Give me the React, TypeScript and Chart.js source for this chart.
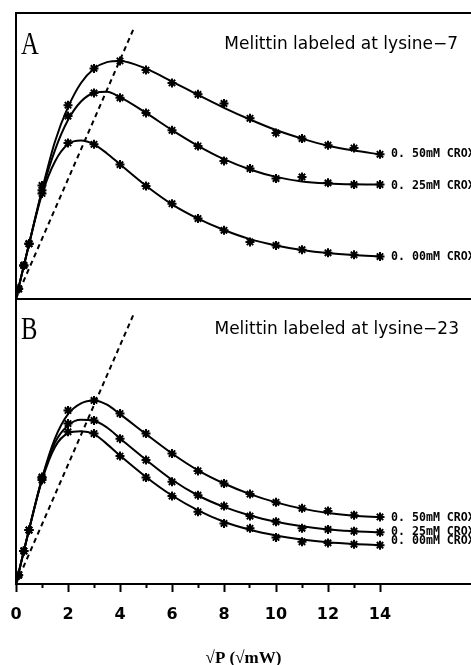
import React, { useEffect, useRef } from "react";
import { Chart, registerables } from "chart.js";

Chart.register(...registerables);

// ---- data ----
const pointX = [0.1, 0.3, 0.5, 1, 2, 3, 4, 5, 6, 7, 8, 9, 10, 11, 12, 13, 14];
const curveX = [0, 0.5, 1, 1.5, 2, 2.5, 3, 3.5, 4, 5, 6, 7, 8, 9, 10, 11, 12, 13, 14];
const seriesLabels = ["0. 50mM CROX", "0. 25mM CROX", "0. 00mM CROX"];
const panelTitles = ["Melittin labeled at lysine\u22127", "Melittin labeled at lysine\u221223"];
const panelLetters = ["A", "B"];
const xTitle = "\u221AP (\u221AmW)";

// Panel A
const a050Points = [3.4, 11.6, 19.2, 39.6, 67.7, 80.6, 83.2, 80.0, 75.5, 71.5, 68.3, 63.1, 58.0, 56.0, 53.7, 52.7, 50.5];
const a025Points = [3.4, 11.6, 19.2, 37.9, 63.9, 72.0, 70.3, 65.0, 58.9, 53.4, 48.2, 45.5, 42.0, 42.6, 40.5, 39.9, 39.9];
const a000Points = [3.4, 11.6, 19.2, 36.8, 54.5, 54.0, 46.9, 39.4, 33.2, 28.0, 23.9, 19.8, 18.6, 17.1, 16.0, 15.3, 14.7];
const a050Curve = [0, 19, 38, 55, 67, 75.5, 80.5, 82.8, 83.2, 80.5, 76, 71.3, 66.8, 62.7, 59, 56, 53.5, 51.8, 50.5];
const a025Curve = [0, 19, 37.5, 52, 62.5, 69, 72, 72.4, 70.5, 65, 59, 53.5, 48.8, 45.2, 42.6, 41, 40.3, 40, 39.9];
const a000Curve = [0, 19, 36.5, 48, 54, 55.3, 54, 50.8, 47, 39.5, 33, 28, 24, 20.8, 18.6, 17, 15.9, 15.2, 14.7];

// Panel B
const b050Points = [3.1, 11.6, 18.9, 37.5, 60.8, 64.3, 59.7, 52.7, 45.7, 39.6, 35.2, 31.5, 28.6, 26.5, 25.6, 24.1, 23.5];
const b025Points = [3.1, 11.6, 18.9, 37.1, 56.2, 57.3, 50.9, 43.4, 35.8, 31.1, 27.3, 23.8, 21.8, 19.5, 19.1, 18.5, 18.1];
const b000Points = [3.1, 11.6, 18.9, 36.4, 53.3, 52.7, 44.8, 37.3, 30.8, 25.3, 21.2, 19.5, 16.3, 14.8, 14.4, 13.9, 13.6];
const b050Curve = [0, 19, 37, 51, 59.5, 63.3, 64.3, 62.8, 59.5, 52.5, 45.7, 39.8, 35.2, 31.5, 28.6, 26.4, 24.9, 23.9, 23.4];
const b025Curve = [0, 19, 36.8, 49.5, 55.5, 57.5, 57.2, 54.8, 51, 43.5, 36.5, 31, 27, 24, 21.8, 20.2, 19.1, 18.5, 18.1];
const b000Curve = [0, 19, 36.3, 48, 52.8, 53.5, 52.5, 49, 45, 37.5, 31, 25.8, 21.8, 19, 17, 15.6, 14.6, 14, 13.6];

// dashed reference line through the origin
const slopeLineX = [0, 4.52];
const slopeLineY = [0, 94.4];

const majorTicks = [0, 2, 4, 6, 8, 10, 12, 14];
const minorTicks = [1, 3, 5, 7, 9, 11, 13];

// ---- helpers ----
const toXY = (xs: number[], ys: number[]) => xs.map((x, i) => ({ x, y: ys[i] }));

const pointSet = (ys: number[], yAxisID: string, endLabel: string, labelDy: number) => ({
  type: "line" as const,
  data: toXY(pointX, ys),
  yAxisID,
  xAxisID: "x",
  showLine: false,
  pointStyle: "star",
  pointRadius: 4.5,
  pointBorderWidth: 2,
  pointBorderColor: "#000",
  pointBackgroundColor: "#000",
  borderColor: "#000",
  endLabel,
  labelDy,
});

const curveSet = (ys: number[], yAxisID: string) => ({
  type: "line" as const,
  data: toXY(curveX, ys),
  yAxisID,
  xAxisID: "x",
  borderColor: "#000",
  borderWidth: 2,
  pointRadius: 0,
  cubicInterpolationMode: "monotone",
  fill: false,
});

const dashSet = (yAxisID: string) => ({
  type: "line" as const,
  data: toXY(slopeLineX, slopeLineY),
  yAxisID,
  xAxisID: "x",
  borderColor: "#000",
  borderWidth: 2,
  borderDash: [5, 4],
  pointRadius: 0,
  fill: false,
});

const annotatePlugin = {
  id: "annotate",
  afterDatasetsDraw(chart: any) {
    const ctx = chart.ctx as CanvasRenderingContext2D;
    const yA = chart.scales.yA;
    const yB = chart.scales.yB;
    ctx.save();
    ctx.fillStyle = "#000";

    // panel titles
    ctx.font = '17px "DejaVu Sans"';
    ctx.textAlign = "right";
    ctx.textBaseline = "middle";
    ctx.fillText(panelTitles[0], 458, yA.top + 32);
    ctx.fillText(panelTitles[1], 459, yB.top + 31);

    // panel letters (condensed serif)
    ctx.font = '30px "Liberation Serif"';
    ctx.textAlign = "left";
    ctx.textBaseline = "alphabetic";
    const letterRows: Array<[any, string, number]> = [
      [yA, panelLetters[0], 40.5],
      [yB, panelLetters[1], 40.5],
    ];
    letterRows.forEach(([scale, letter, dy]) => {
      ctx.save();
      ctx.translate(21, scale.top + dy);
      ctx.scale(0.82, 1.08);
      ctx.fillText(letter, 0, 0);
      ctx.restore();
    });

    // end-of-series labels
    ctx.font = 'bold 11.6px "DejaVu Sans Mono"';
    ctx.textAlign = "left";
    ctx.textBaseline = "middle";
    chart.data.datasets.forEach((ds: any, i: number) => {
      if (!ds.endLabel) return;
      const meta = chart.getDatasetMeta(i);
      const last = meta.data[meta.data.length - 1];
      if (!last) return;
      ctx.fillText(ds.endLabel, last.x + 11, last.y + (ds.labelDy || 0));
    });
    ctx.restore();
  },
};

export default function App() {
  const canvasRef = useRef<HTMLCanvasElement | null>(null);

  useEffect(() => {
    if (!canvasRef.current) return;
    const xCommon = { type: "linear" as const, min: 0, max: 17.5 };
    const chart = new Chart(canvasRef.current, {
      type: "line",
      data: {
        datasets: [
          dashSet("yA"),
          curveSet(a050Curve, "yA"),
          curveSet(a025Curve, "yA"),
          curveSet(a000Curve, "yA"),
          pointSet(a050Points, "yA", seriesLabels[0], 0),
          pointSet(a025Points, "yA", seriesLabels[1], 1),
          pointSet(a000Points, "yA", seriesLabels[2], 0),
          dashSet("yB"),
          curveSet(b050Curve, "yB"),
          curveSet(b025Curve, "yB"),
          curveSet(b000Curve, "yB"),
          pointSet(b050Points, "yB", seriesLabels[0], 1),
          pointSet(b025Points, "yB", seriesLabels[1], 0),
          pointSet(b000Points, "yB", seriesLabels[2], -4),
        ] as any,
      },
      options: {
        animation: false,
        responsive: false,
        devicePixelRatio: 1,
        layout: { autoPadding: false, padding: { left: 16, top: 13, right: 0, bottom: 0 } },
        plugins: { legend: { display: false }, tooltip: { enabled: false }, title: { display: false } },
        scales: {
          yB: {
            type: "linear",
            position: "left",
            stack: "panels",
            stackWeight: 1,
            min: 0,
            max: 100,
            afterFit: (ax: any) => {
              ax.width = 0;
            },
            grid: { display: false },
            border: { display: true, color: "#000", width: 2 },
            ticks: { display: false },
          },
          yA: {
            type: "linear",
            position: "left",
            stack: "panels",
            stackWeight: 1,
            min: 0,
            max: 100,
            afterFit: (ax: any) => {
              ax.width = 0;
            },
            grid: { display: false },
            border: { display: true, color: "#000", width: 2 },
            ticks: { display: false },
          },
          x: {
            ...xCommon,
            position: "bottom",
            afterBuildTicks: (ax: any) => {
              ax.ticks = majorTicks.map((v) => ({ value: v }));
            },
            afterFit: (ax: any) => {
              ax.height = 81;
              ax.paddingLeft = 0;
              ax.paddingRight = 0;
            },
            grid: { display: true, drawOnChartArea: false, drawTicks: true, tickLength: 8, tickWidth: 2, tickColor: "#000" },
            border: { display: true, color: "#000", width: 2 },
            ticks: {
              color: "#000",
              font: { family: "DejaVu Sans", weight: "bold", size: 16 },
              padding: 13,
              maxRotation: 0,
              autoSkip: false,
            },
            title: {
              display: true,
              text: xTitle,
              color: "#000",
              font: { family: "Liberation Serif", weight: "bold", size: 17, lineHeight: 0.8 },
              padding: { top: 0, bottom: 0 },
            },
          },
          xMinor: {
            ...xCommon,
            axis: "x",
            position: { yB: 0 },
            afterBuildTicks: (ax: any) => {
              ax.ticks = minorTicks.map((v) => ({ value: v }));
            },
            grid: { display: true, drawOnChartArea: false, drawTicks: true, tickLength: 4, tickWidth: 2, tickColor: "#000" },
            border: { display: false },
            ticks: { display: false },
          },
          xTop: {
            ...xCommon,
            axis: "x",
            position: { yA: 100 },
            grid: { display: false },
            border: { display: true, color: "#000", width: 2 },
            ticks: { display: false },
          },
          xMid: {
            ...xCommon,
            axis: "x",
            position: { yA: 0 },
            grid: { display: false },
            border: { display: true, color: "#000", width: 2 },
            ticks: { display: false },
          },
        } as any,
      },
      plugins: [annotatePlugin],
    });
    return () => chart.destroy();
  }, []);

  return (
    <div style={{ position: "absolute", left: 0, top: 0, width: 471, height: 665, background: "#fff" }}>
      <canvas ref={canvasRef} width={471} height={665} style={{ display: "block" }} />
    </div>
  );
}
